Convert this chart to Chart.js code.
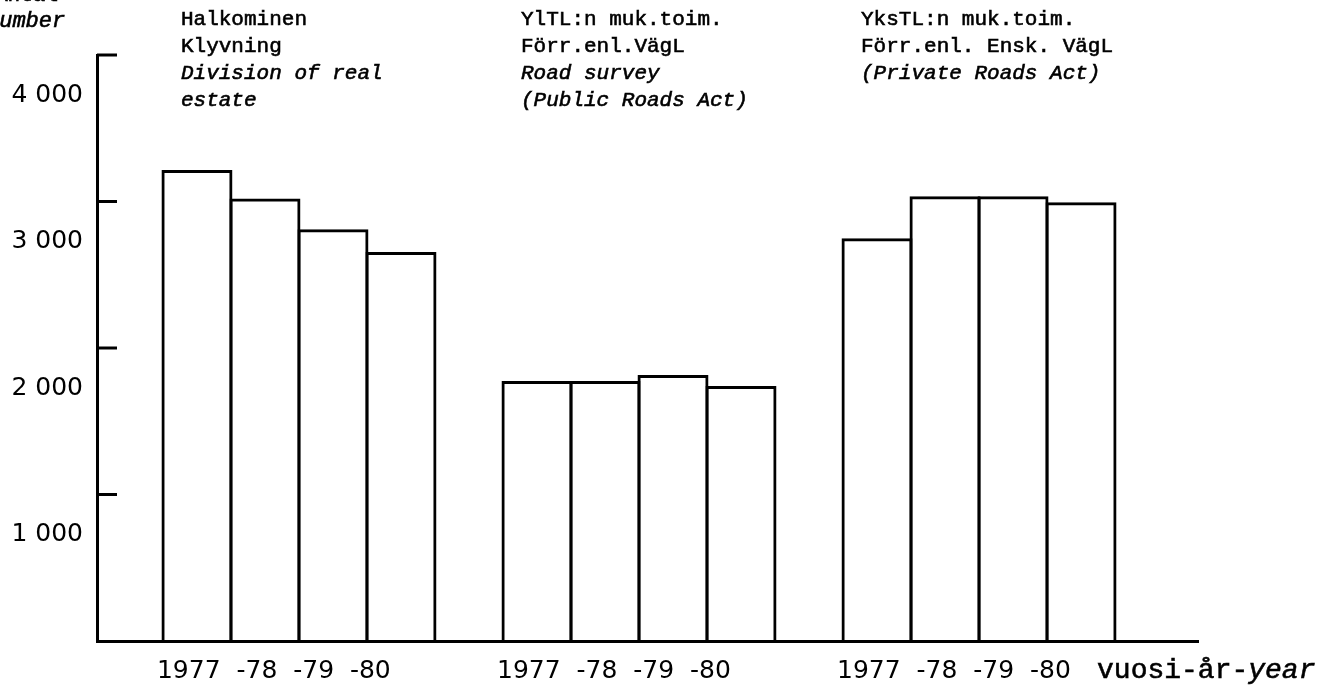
<!DOCTYPE html>
<html>
<head>
<meta charset="utf-8">
<script src="https://cdn.jsdelivr.net/npm/chart.js"></script>
<style>
  html, body { margin: 0; padding: 0; background: #fff; }
  #wrap { width: 1338px; height: 686px; }
</style>
</head>
<body>
<div id="wrap"><canvas id="surveyChart"></canvas></div>
<script>
// values (number of surveys per year)
const years = ['1977', '-78', '-79', '-80'];
const divisionCounts = [3215, 3020, 2810, 2655];
const publicRoadCounts = [1775, 1775, 1815, 1740];
const privateRoadCounts = [2750, 3035, 3035, 2995];
const yTickValues = [1000, 2000, 3000, 4000];

const groupTitles = [
  ['Halkominen', 'Klyvning'],
  ['YlTL:n muk.toim.', 'Förr.enl.VägL'],
  ['YksTL:n muk.toim.', 'Förr.enl. Ensk. VägL']
];
const groupTitlesEn = [
  ['Division of real', 'estate'],
  ['Road survey', '(Public Roads Act)'],
  ['(Private Roads Act)']
];

const ink = '#000';
const mono = '"Liberation Mono", "DejaVu Sans Mono", monospace';
const sans = '"DejaVu Sans", sans-serif';

// each group of four bars, one empty slot between groups
function groupData(values, g) {
  return values.map((v, i) => ({ x: g * 5 + i + 1, y: v }));
}
const yearLine = years.join('  ');

// typewriter text looks a bit heavier than the plain font
function typed(ctx, text, x, y) {
  ctx.fillText(text, x, y);
  ctx.strokeText(text, x, y);
}

const extras = {
  id: 'extras',
  afterDraw(chart) {
    const ctx = chart.ctx;
    const xs = chart.scales.x;
    const ys = chart.scales.y;
    ctx.save();
    ctx.fillStyle = ink;
    ctx.strokeStyle = ink;

    // inward tick marks on the y axis
    ctx.lineWidth = 3;
    yTickValues.forEach(v => {
      const y = ys.getPixelForValue(v);
      ctx.beginPath();
      ctx.moveTo(xs.left, y);
      ctx.lineTo(xs.left + 20, y);
      ctx.stroke();
    });

    ctx.lineWidth = 0.6;
    // axis title, partly cut off at the top left
    ctx.textBaseline = 'alphabetic';
    ctx.textAlign = 'left';
    ctx.font = '21px ' + mono;
    typed(ctx, 'Antal', -5, 1);
    ctx.font = 'italic 22px ' + mono;
    typed(ctx, 'Number', -14, 27);

    // group headings
    groupTitles.forEach((lines, g) => {
      const x = xs.getPixelForValue(g * 5 + 0.5) + 18;
      let row = 0;
      ctx.font = '21px ' + mono;
      lines.forEach(t => { typed(ctx, t, x, 25 + row * 27); row++; });
      ctx.font = 'italic 21px ' + mono;
      groupTitlesEn[g].forEach(t => { typed(ctx, t, x, 25 + row * 27); row++; });
    });

    // x axis title
    ctx.textBaseline = 'middle';
    const tx = xs.getPixelForValue(14.5) - 18;
    const ty = xs.top + 30;
    ctx.font = '28px ' + mono;
    const head = 'vuosi-år-';
    typed(ctx, head, tx, ty);
    const w = ctx.measureText(head).width;
    ctx.font = 'italic 28px ' + mono;
    typed(ctx, 'year', tx + w, ty);
    ctx.restore();
  }
};

const barStyle = {
  backgroundColor: 'rgba(0,0,0,0)',
  borderColor: ink,
  borderWidth: 3,
  borderSkipped: 'start',
  categoryPercentage: 1,
  barPercentage: 1.044,
  grouped: false
};

new Chart(document.getElementById('surveyChart'), {
  type: 'bar',
  data: {
    datasets: [
      Object.assign({ label: 'Halkominen', data: groupData(divisionCounts, 0) }, barStyle),
      Object.assign({ label: 'YlTL', data: groupData(publicRoadCounts, 1) }, barStyle),
      Object.assign({ label: 'YksTL', data: groupData(privateRoadCounts, 2) }, barStyle)
    ]
  },
  options: {
    responsive: true,
    maintainAspectRatio: false,
    animation: false,
    layout: { padding: { top: 55, right: 140, left: 0, bottom: 0 } },
    plugins: { legend: { display: false }, tooltip: { enabled: false } },
    scales: {
      x: {
        type: 'linear',
        min: -0.47,
        max: 15.72,
        offset: false,
        grid: { display: true, drawOnChartArea: false, drawTicks: false, offset: false },
        border: { display: true, color: ink, width: 3 },
        afterBuildTicks(scale) {
          scale.ticks = [0, 1, 2].map(g => ({ value: g * 5 + 1 }));
        },
        afterFit(scale) { scale.height = 45; },
        ticks: {
          autoSkip: false,
          maxRotation: 0,
          align: 'start',
          labelOffset: -40,
          padding: 15,
          color: ink,
          font: { family: sans, size: 25 },
          callback: () => yearLine
        }
      },
      y: {
        min: 0,
        max: 4000,
        grid: { display: true, drawOnChartArea: false, drawTicks: false },
        border: { display: true, color: ink, width: 3 },
        afterBuildTicks(scale) {
          scale.ticks = yTickValues.map(v => ({ value: v }));
        },
        afterFit(scale) { scale.width = 97; },
        ticks: {
          padding: 14,
          labelOffset: 40,
          color: ink,
          font: { family: sans, size: 25 },
          callback: v => String(v).replace(/\B(?=(\d{3})+(?!\d))/g, ' ')
        }
      }
    }
  },
  plugins: [extras]
});
</script>
</body>
</html>
